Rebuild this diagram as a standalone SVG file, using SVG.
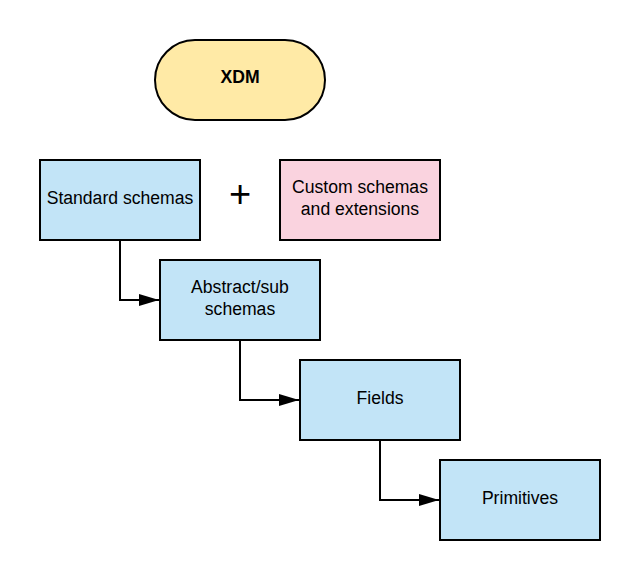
<svg xmlns="http://www.w3.org/2000/svg" width="640" height="580" viewBox="0 0 640 580">
<style>
.n{stroke:#000;stroke-width:2}
.b{fill:#c2e4f7}
.t{font-family:"Liberation Sans",Arial,sans-serif;font-size:17.6px;fill:#000;text-anchor:middle}
.c{fill:none;stroke:#000;stroke-width:2}
</style>
<defs>
<marker id="a" markerWidth="20" markerHeight="12" refX="20" refY="6" orient="auto" markerUnits="userSpaceOnUse">
<path d="M0,0 L20,6 L0,12 Z" fill="#000"/>
</marker>
</defs>
<rect width="640" height="580" fill="#fff"/>
<g id="xdm">
<rect class="n" x="155" y="40" width="170" height="80" rx="40" fill="#ffeaa6"/>
<text class="t" x="240" y="83" font-weight="bold">XDM</text>
</g>
<g id="standard">
<rect class="n b" x="40" y="160" width="160" height="80"/>
<text class="t" x="120" y="204">Standard schemas</text>
</g>
<g id="plus">
<text class="t" x="240" y="207" style="font-size:38px">+</text>
</g>
<g id="custom">
<rect class="n" x="280" y="160" width="160" height="80" fill="#fad3df"/>
<text class="t" x="360" y="193">Custom schemas</text>
<text class="t" x="360" y="215">and extensions</text>
</g>
<g id="abstract">
<rect class="n b" x="160" y="260" width="160" height="80"/>
<text class="t" x="240" y="293">Abstract/sub</text>
<text class="t" x="240" y="315">schemas</text>
</g>
<g id="fields">
<rect class="n b" x="300" y="360" width="160" height="80"/>
<text class="t" x="380" y="404">Fields</text>
</g>
<g id="primitives">
<rect class="n b" x="440" y="460" width="160" height="80"/>
<text class="t" x="520" y="504">Primitives</text>
</g>
<g id="connectors">
<path class="c" d="M120,241 V300 H159" marker-end="url(#a)"/>
<path class="c" d="M240,341 V400 H299" marker-end="url(#a)"/>
<path class="c" d="M380,441 V500 H439" marker-end="url(#a)"/>
</g>
</svg>
